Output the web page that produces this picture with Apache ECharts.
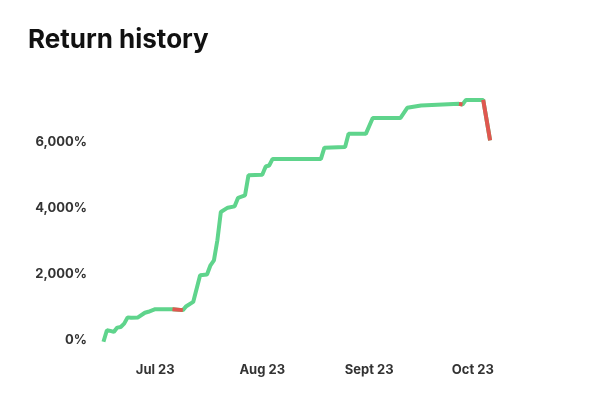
<!DOCTYPE html>
<html><head><meta charset="utf-8">
<script src="https://cdn.jsdelivr.net/npm/echarts@6/dist/echarts.min.js"></script>
<style>html,body{margin:0;padding:0;background:#fff}#c{width:606px;height:406px}</style>
</head><body><div id="c"></div>
<script>
const dates = ['2023-06-16','2023-06-17','2023-06-18','2023-06-19','2023-06-20','2023-06-21','2023-06-22','2023-06-23','2023-06-24','2023-06-26','2023-06-28','2023-06-29','2023-07-01','2023-07-06','2023-07-09','2023-07-10','2023-07-12','2023-07-14','2023-07-16','2023-07-17','2023-07-18','2023-07-19','2023-07-20','2023-07-22','2023-07-24','2023-07-25','2023-07-27','2023-07-28','2023-08-01','2023-08-02','2023-08-03','2023-08-04','2023-08-18','2023-08-19','2023-08-25','2023-08-26','2023-08-31','2023-09-02','2023-09-10','2023-09-12','2023-09-16','2023-09-27','2023-09-28','2023-09-29','2023-10-04','2023-10-06'];
const returns = [-50,300,280,250,380,400,500,690,680,690,830,860,940,940,910,1030,1160,1970,1990,2270,2420,3030,3890,4020,4060,4320,4390,5000,5020,5270,5300,5500,5500,5840,5860,6260,6260,6740,6740,7050,7120,7170,7150,7290,7290,6060];
const lossSegments = [['2023-07-06','2023-07-09'],['2023-09-27','2023-09-28'],['2023-10-04','2023-10-06']];
const xTicks = ['2023-07-01','2023-08-01','2023-09-01','2023-10-01'];
const xTickLabels = ['Jul 23','Aug 23','Sept 23','Oct 23'];
const yTicks = [0,2000,4000,6000];

const ts = d => new Date(d + 'T00:00:00Z').getTime();
const main = dates.map((d,i)=>[ts(d), returns[i]]);
const red = [];
lossSegments.forEach(([a,b])=>{
  const i=dates.indexOf(a), j=dates.indexOf(b);
  for(let k=i;k<=j;k++) red.push([ts(dates[k]), returns[k]]);
  red.push([ts(dates[j])+1, null]);
});
const tickTs = xTicks.map(ts);
const chart = echarts.init(document.getElementById('c'));
chart.setOption({
  animation:false,
  title:{text:'Return history',left:23,top:22,textStyle:{fontFamily:'Inter',fontSize:26,fontWeight:'bold',color:'#111'}},
  grid:{left:100,right:109,top:93,bottom:56},
  xAxis:{type:'value',min:ts('2023-06-15'),max:ts('2023-10-08'),
    axisLine:{show:false},axisTick:{show:false},splitLine:{show:false},
    axisLabel:{customValues:tickTs,margin:14,fontFamily:'Inter',fontSize:13,fontWeight:'bold',color:'#333',
      formatter:v=>{const i=tickTs.indexOf(v);return i>=0?xTickLabels[i]:'';}}},
  yAxis:{type:'value',min:-300,max:7500,
    axisLine:{show:false},axisTick:{show:false},splitLine:{show:false},
    axisLabel:{customValues:yTicks,margin:13,fontFamily:'Inter',fontSize:13,fontWeight:'bold',color:'#333',
      formatter:v=>v.toLocaleString('en-US')+'%'}},
  series:[
    {type:'line',data:main,symbol:'none',lineStyle:{color:'#5fd48c',width:4}},
    {type:'line',data:red,symbol:'none',connectNulls:false,lineStyle:{color:'#e0574f',width:4}}
  ]
});
</script></body></html>
